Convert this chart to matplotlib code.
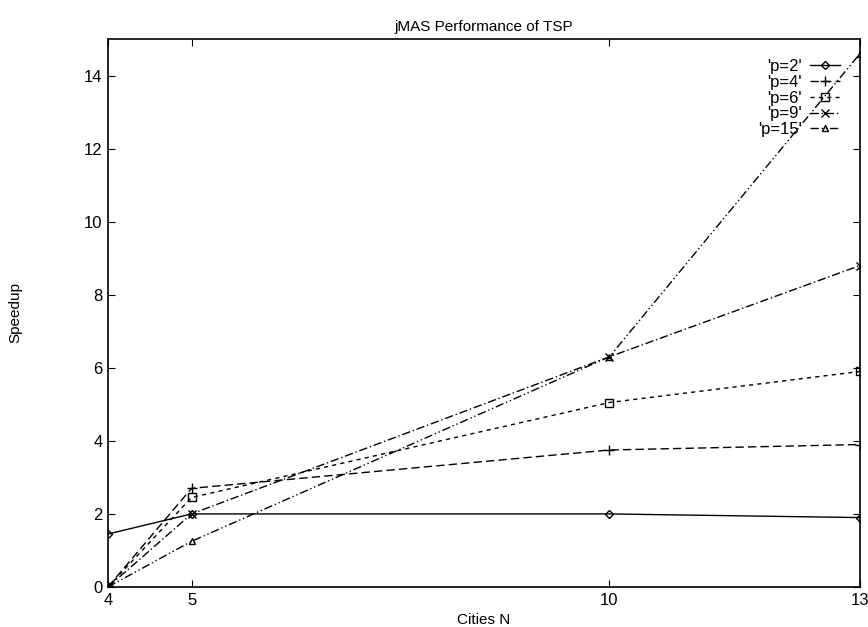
import matplotlib
matplotlib.use("Agg")
import matplotlib.pyplot as plt

plt.rcParams['font.family'] = ['Liberation Sans', 'DejaVu Sans']

# data
cities = [4, 5, 10, 13]
p2 = [1.45, 2.0, 2.0, 1.9]
p4 = [0.0, 2.7, 3.75, 3.9]
p6 = [0.0, 2.45, 5.05, 5.9]
p9 = [0.0, 2.0, 6.3, 8.8]
p15 = [0.0, 1.25, 6.3, 14.6]

labels = ["'p=2'", "'p=4'", "'p=6'", "'p=9'", "'p=15'"]
series = [p2, p4, p6, p9, p15]
markers = ['D', '+', 's', 'x', '^']
styles = ['-', (0, (6, 3)), (0, (3, 3)), (0, (6, 2, 1, 2)), (0, (6, 2, 1, 2, 1, 2))]
msizes = [4, 7, 6, 6, 5]

fig = plt.figure(figsize=(8.68, 6.27), dpi=100)
ax = fig.add_axes([0.1244, 0.0638, 0.8664, 0.874])

for vals, lab, m, ls, ms in zip(series, labels, markers, styles, msizes):
    ax.plot(cities, vals, color='black', linestyle=ls, linewidth=1.0,
            marker=m, markersize=ms, markerfacecolor='none',
            markeredgecolor='black', markeredgewidth=1.0, label=lab)

ax.set_xlim(4, 13)
ax.set_ylim(0, 15)
ax.set_xticks(cities)
ax.set_yticks(range(0, 15, 2))
ax.tick_params(direction='in', top=True, right=True, labelsize=12, length=5, pad=4)
for s in ax.spines.values():
    s.set_linewidth(1.2)

ax.set_title('jMAS Performance of TSP', fontsize=11, pad=6)
ax.set_xlabel('Cities N', fontsize=11, labelpad=4)
ax.set_ylabel('Speedup', fontsize=11, labelpad=44)

ax.legend(loc='upper right', frameon=False, markerfirst=False, fontsize=12,
          handlelength=1.8, labelspacing=0.05, borderaxespad=0.8, handletextpad=0.5)

fig.savefig('out.png', dpi=100)
